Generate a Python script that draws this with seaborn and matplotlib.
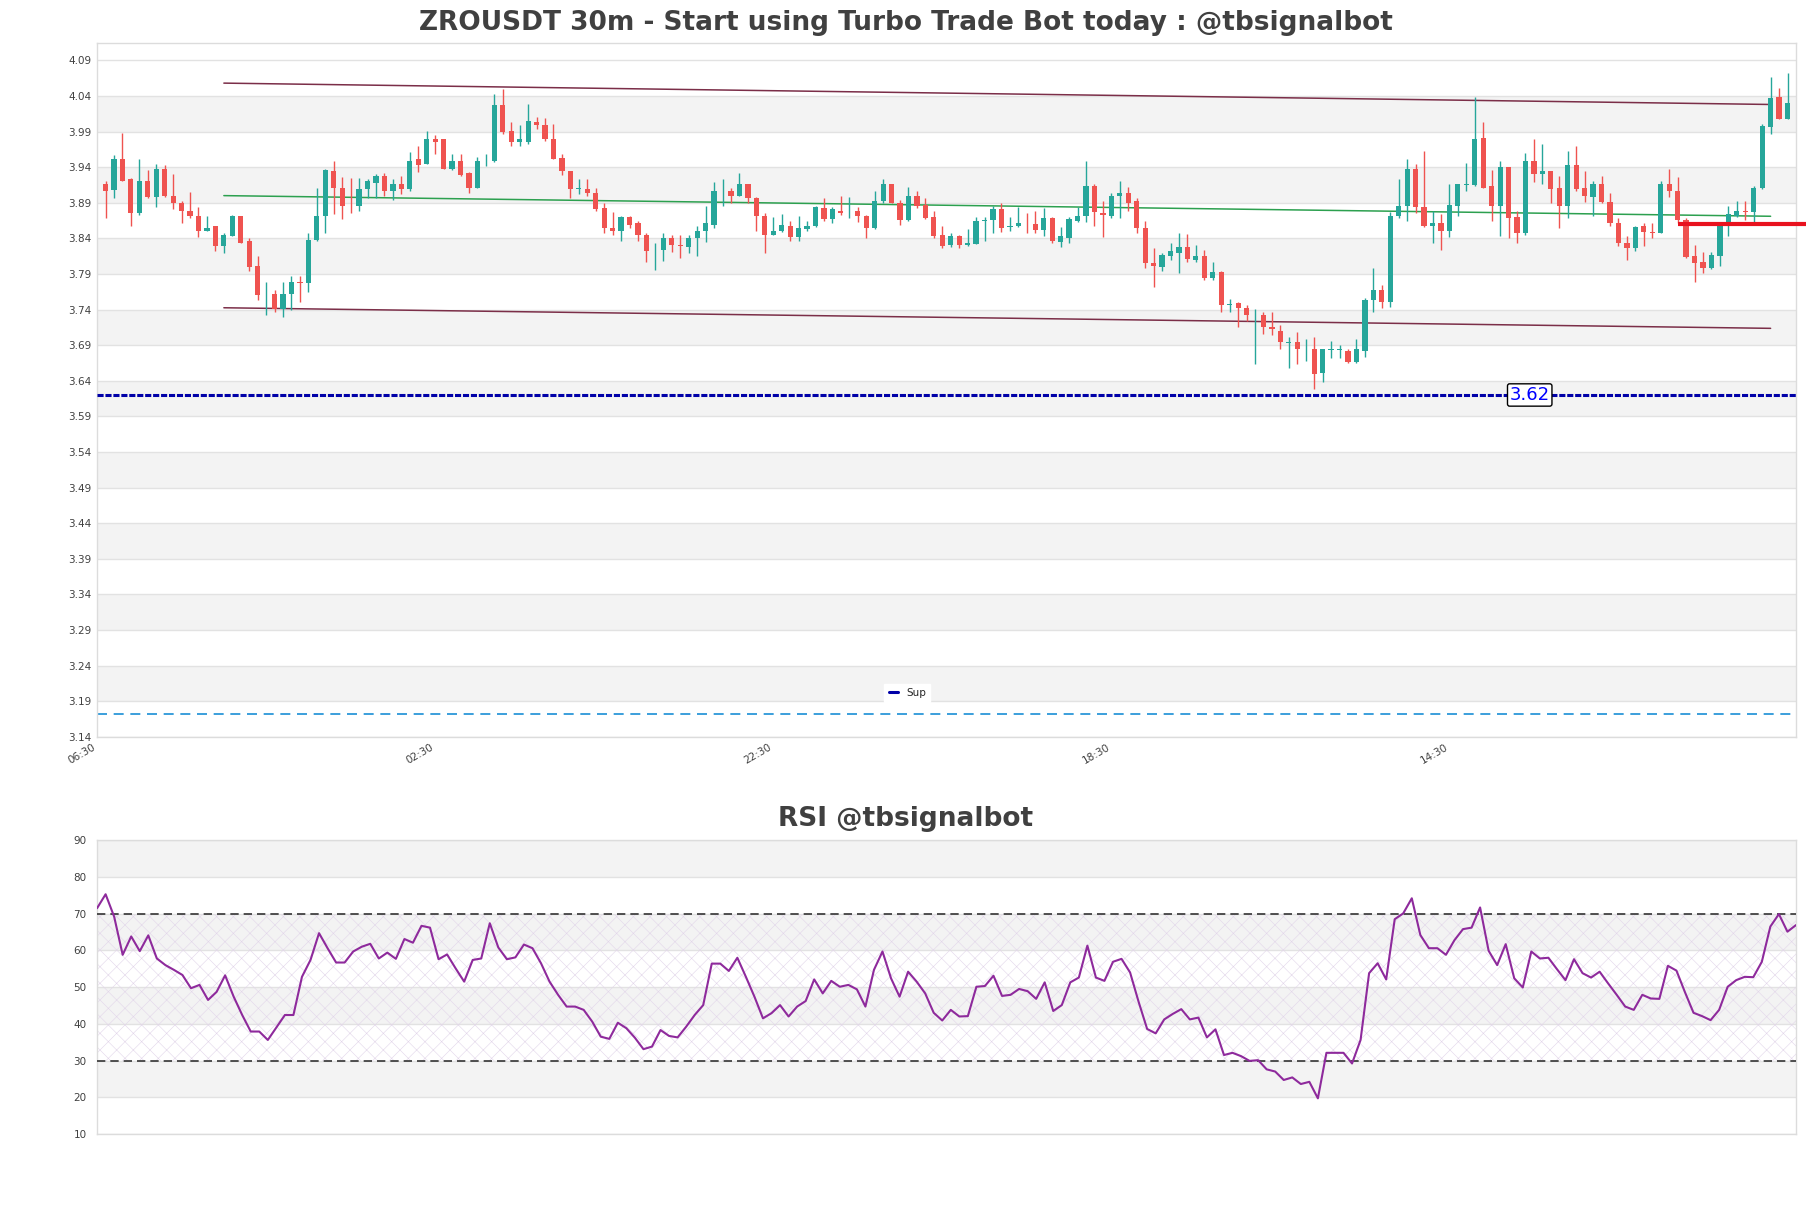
import numpy as np
import pandas as pd
import matplotlib
matplotlib.use("Agg")
import matplotlib.pyplot as plt
from matplotlib.ticker import MultipleLocator
from matplotlib.lines import Line2D
import seaborn as sns

# ---------------- data ----------------
title_main = "ZROUSDT 30m - Start using Turbo Trade Bot today : @tbsignalbot"
title_rsi = "RSI @tbsignalbot"
time_labels = ["06:30", "02:30", "22:30", "18:30", "14:30"]
time_ticks = [0, 40, 80, 120, 160]

opens = [3.916, 3.908, 3.951, 3.923, 3.876, 3.921, 3.898, 3.938, 3.900, 3.890,
         3.878, 3.872, 3.850, 3.857, 3.829, 3.843, 3.871, 3.836, 3.801, 3.760,
         3.762, 3.741, 3.762, 3.779, 3.777, 3.837, 3.871, 3.935, 3.911, 3.886,
         3.885, 3.909, 3.918, 3.927, 3.906, 3.917, 3.909, 3.951, 3.944, 3.979,
         3.979, 3.938, 3.949, 3.932, 3.910, 3.948, 3.948, 4.027, 3.991, 3.976,
         3.976, 4.004, 3.999, 3.979, 3.953, 3.934, 3.909, 3.909, 3.903, 3.883,
         3.854, 3.850, 3.870, 3.862, 3.845, 3.823, 3.824, 3.841, 3.830, 3.828,
         3.840, 3.850, 3.859, 3.906, 3.907, 3.899, 3.917, 3.897, 3.872, 3.845,
         3.850, 3.858, 3.842, 3.853, 3.857, 3.883, 3.867, 3.879, 3.875, 3.878,
         3.872, 3.855, 3.892, 3.917, 3.890, 3.866, 3.900, 3.887, 3.870, 3.844,
         3.830, 3.843, 3.831, 3.832, 3.865, 3.866, 3.881, 3.856, 3.857, 3.862,
         3.860, 3.852, 3.869, 3.835, 3.841, 3.865, 3.871, 3.914, 3.876, 3.871,
         3.899, 3.904, 3.892, 3.855, 3.806, 3.800, 3.815, 3.820, 3.828, 3.809,
         3.815, 3.785, 3.793, 3.747, 3.749, 3.742, 3.732, 3.733, 3.715, 3.710,
         3.693, 3.694, 3.684, 3.685, 3.651, 3.683, 3.683, 3.682, 3.666, 3.682,
         3.754, 3.768, 3.750, 3.871, 3.885, 3.937, 3.884, 3.858, 3.862, 3.850,
         3.886, 3.915, 3.915, 3.981, 3.913, 3.885, 3.940, 3.870, 3.848, 3.948,
         3.931, 3.935, 3.910, 3.885, 3.943, 3.910, 3.898, 3.917, 3.891, 3.862,
         3.834, 3.826, 3.857, 3.849, 3.848, 3.916, 3.907, 3.866, 3.815, 3.807,
         3.799, 3.815, 3.860, 3.872, 3.878, 3.877, 3.910, 3.997, 4.039, 4.008]

highs = [3.921, 3.957, 3.988, 3.925, 3.951, 3.936, 3.945, 3.943, 3.931, 3.893,
         3.905, 3.884, 3.872, 3.858, 3.847, 3.873, 3.871, 3.841, 3.815, 3.778,
         3.767, 3.778, 3.787, 3.787, 3.847, 3.911, 3.937, 3.948, 3.926, 3.925,
         3.925, 3.924, 3.930, 3.932, 3.923, 3.928, 3.961, 3.970, 3.991, 3.985,
         3.979, 3.959, 3.959, 3.933, 3.954, 3.959, 4.043, 4.050, 4.003, 3.999,
         4.029, 4.010, 4.009, 4.001, 3.959, 3.934, 3.924, 3.924, 3.910, 3.890,
         3.877, 3.872, 3.872, 3.864, 3.847, 3.834, 3.848, 3.845, 3.845, 3.844,
         3.858, 3.886, 3.919, 3.924, 3.910, 3.932, 3.917, 3.898, 3.875, 3.870,
         3.874, 3.864, 3.872, 3.865, 3.885, 3.896, 3.884, 3.900, 3.898, 3.884,
         3.873, 3.907, 3.924, 3.917, 3.894, 3.912, 3.906, 3.897, 3.879, 3.858,
         3.848, 3.844, 3.853, 3.870, 3.870, 3.885, 3.890, 3.870, 3.884, 3.876,
         3.879, 3.882, 3.870, 3.856, 3.870, 3.884, 3.948, 3.916, 3.893, 3.903,
         3.920, 3.912, 3.897, 3.865, 3.827, 3.820, 3.834, 3.848, 3.846, 3.830,
         3.823, 3.807, 3.794, 3.755, 3.751, 3.747, 3.741, 3.736, 3.736, 3.718,
         3.702, 3.708, 3.699, 3.701, 3.685, 3.696, 3.690, 3.684, 3.699, 3.756,
         3.799, 3.774, 3.877, 3.923, 3.951, 3.945, 3.962, 3.878, 3.874, 3.917,
         3.916, 3.946, 4.039, 4.004, 3.936, 3.949, 3.940, 3.879, 3.960, 3.980,
         3.973, 3.935, 3.928, 3.962, 3.969, 3.934, 3.920, 3.927, 3.903, 3.868,
         3.843, 3.858, 3.861, 3.862, 3.921, 3.938, 3.926, 3.868, 3.830, 3.821,
         3.821, 3.863, 3.886, 3.893, 3.893, 3.914, 4.001, 4.067, 4.051, 4.072]

lows = [3.869, 3.897, 3.920, 3.858, 3.873, 3.896, 3.884, 3.898, 3.881, 3.861,
        3.869, 3.842, 3.850, 3.822, 3.820, 3.843, 3.833, 3.794, 3.754, 3.732,
        3.736, 3.730, 3.740, 3.751, 3.764, 3.836, 3.848, 3.874, 3.867, 3.876,
        3.878, 3.896, 3.896, 3.900, 3.894, 3.902, 3.907, 3.933, 3.944, 3.959,
        3.937, 3.936, 3.928, 3.903, 3.910, 3.941, 3.947, 3.987, 3.969, 3.969,
        3.973, 3.994, 3.977, 3.951, 3.929, 3.896, 3.902, 3.900, 3.878, 3.847,
        3.845, 3.836, 3.855, 3.836, 3.807, 3.795, 3.808, 3.821, 3.813, 3.820,
        3.815, 3.835, 3.855, 3.885, 3.890, 3.899, 3.890, 3.850, 3.820, 3.845,
        3.849, 3.836, 3.836, 3.850, 3.856, 3.865, 3.862, 3.873, 3.869, 3.863,
        3.841, 3.853, 3.890, 3.889, 3.859, 3.865, 3.882, 3.867, 3.841, 3.827,
        3.828, 3.827, 3.829, 3.832, 3.836, 3.848, 3.849, 3.851, 3.856, 3.847,
        3.847, 3.843, 3.833, 3.828, 3.834, 3.863, 3.863, 3.857, 3.842, 3.869,
        3.869, 3.878, 3.848, 3.799, 3.771, 3.794, 3.810, 3.791, 3.807, 3.807,
        3.781, 3.782, 3.737, 3.737, 3.715, 3.724, 3.664, 3.705, 3.704, 3.685,
        3.658, 3.664, 3.668, 3.628, 3.638, 3.672, 3.672, 3.665, 3.665, 3.674,
        3.737, 3.742, 3.743, 3.868, 3.864, 3.875, 3.856, 3.834, 3.824, 3.842,
        3.872, 3.907, 3.913, 3.910, 3.865, 3.843, 3.840, 3.833, 3.844, 3.919,
        3.917, 3.889, 3.855, 3.868, 3.907, 3.891, 3.872, 3.889, 3.857, 3.829,
        3.810, 3.822, 3.829, 3.841, 3.848, 3.898, 3.861, 3.812, 3.778, 3.792,
        3.797, 3.801, 3.843, 3.870, 3.866, 3.861, 3.909, 3.986, 4.008, 4.007]

closes = [3.906, 3.951, 3.921, 3.876, 3.921, 3.898, 3.938, 3.899, 3.889, 3.878,
          3.871, 3.850, 3.855, 3.829, 3.844, 3.871, 3.834, 3.800, 3.760, 3.761,
          3.741, 3.762, 3.779, 3.777, 3.837, 3.871, 3.936, 3.910, 3.885, 3.885,
          3.909, 3.920, 3.928, 3.906, 3.917, 3.909, 3.949, 3.943, 3.979, 3.976,
          3.938, 3.948, 3.929, 3.910, 3.948, 3.949, 4.027, 3.990, 3.975, 3.979,
          4.005, 3.999, 3.979, 3.951, 3.934, 3.909, 3.910, 3.903, 3.881, 3.855,
          3.850, 3.870, 3.859, 3.845, 3.822, 3.824, 3.841, 3.830, 3.829, 3.840,
          3.851, 3.861, 3.907, 3.907, 3.899, 3.917, 3.897, 3.871, 3.845, 3.851,
          3.859, 3.842, 3.854, 3.858, 3.884, 3.867, 3.881, 3.875, 3.876, 3.871,
          3.855, 3.893, 3.917, 3.890, 3.866, 3.900, 3.885, 3.869, 3.843, 3.829,
          3.843, 3.830, 3.833, 3.865, 3.866, 3.881, 3.855, 3.857, 3.862, 3.861,
          3.852, 3.869, 3.836, 3.843, 3.867, 3.871, 3.914, 3.877, 3.873, 3.900,
          3.904, 3.889, 3.855, 3.806, 3.801, 3.816, 3.822, 3.828, 3.811, 3.815,
          3.785, 3.793, 3.747, 3.748, 3.742, 3.732, 3.733, 3.715, 3.712, 3.694,
          3.694, 3.685, 3.685, 3.650, 3.684, 3.684, 3.684, 3.666, 3.684, 3.754,
          3.768, 3.750, 3.871, 3.885, 3.937, 3.884, 3.858, 3.861, 3.850, 3.887,
          3.916, 3.917, 3.979, 3.911, 3.885, 3.940, 3.869, 3.848, 3.948, 3.931,
          3.935, 3.909, 3.885, 3.943, 3.909, 3.899, 3.916, 3.891, 3.862, 3.833,
          3.827, 3.856, 3.849, 3.848, 3.916, 3.907, 3.866, 3.814, 3.806, 3.799,
          3.816, 3.862, 3.874, 3.879, 3.877, 3.910, 3.998, 4.037, 4.008, 4.030]

rsi = [71.5, 75.3, 69.2, 58.8, 63.8, 59.8, 64.1, 57.8, 56.0, 54.7,
       53.3, 49.7, 50.6, 46.5, 48.7, 53.2, 47.4, 42.4, 37.9, 37.9,
       35.6, 39.0, 42.4, 42.4, 52.8, 57.4, 64.7, 60.6, 56.7, 56.7,
       59.7, 61.0, 61.8, 57.8, 59.4, 57.7, 63.1, 62.1, 66.7, 66.2,
       57.6, 58.9, 55.1, 51.5, 57.4, 57.8, 67.4, 60.8, 57.6, 58.1,
       61.6, 60.6, 56.5, 51.5, 47.9, 44.7, 44.7, 43.8, 40.6, 36.5,
       35.9, 40.3, 38.8, 36.2, 33.1, 33.8, 38.3, 36.7, 36.3, 39.2,
       42.4, 45.1, 56.4, 56.4, 54.4, 58.0, 52.8, 47.4, 41.5, 42.9,
       45.1, 42.0, 44.7, 46.2, 52.1, 48.3, 51.7, 50.1, 50.6, 49.4,
       44.7, 54.7, 59.7, 52.4, 47.4, 54.2, 51.5, 48.3, 43.0, 40.9,
       43.8, 42.0, 42.1, 50.1, 50.3, 53.1, 47.6, 47.9, 49.5, 48.9,
       46.8, 51.3, 43.5, 45.1, 51.3, 52.6, 61.3, 52.6, 51.7, 56.9,
       57.7, 54.0, 46.0, 38.6, 37.4, 41.2, 42.7, 44.0, 41.2, 41.7,
       36.3, 38.5, 31.5, 32.1, 31.2, 29.9, 30.1, 27.6, 27.0, 24.7,
       25.4, 23.6, 24.2, 19.7, 32.1, 32.1, 32.1, 29.2, 35.6, 53.8,
       56.5, 52.1, 68.5, 70.1, 74.2, 64.2, 60.6, 60.6, 58.8, 62.8,
       65.8, 66.2, 71.7, 59.9, 56.0, 61.7, 52.4, 49.9, 59.7, 57.8,
       58.0, 54.9, 51.9, 57.6, 53.8, 52.6, 54.2, 51.0, 47.9, 44.7,
       43.8, 47.9, 46.9, 46.8, 55.8, 54.5, 48.6, 43.0, 42.1, 41.0,
       43.8, 50.1, 51.9, 52.8, 52.7, 56.9, 66.5, 69.9, 65.1, 66.9]

channel_x = [15, 198]
channel_upper = [4.058, 4.028]
channel_mid = [3.900, 3.871]
channel_lower = [3.7425, 3.7136]
support_level = 3.62
low_level = 3.1715
red_level = 3.8597
red_x = [187, 202.2]
support_label_x = 169.5

df = pd.DataFrame({"open": opens, "high": highs, "low": lows, "close": closes})
df["x"] = np.arange(1, len(df) + 1)
rsi_df = pd.DataFrame({"x": np.arange(1, len(rsi) + 1), "rsi": rsi})

# ---------------- style ----------------
sns.set_style("white")
plt.rcParams["font.family"] = ["DejaVu Sans"]
plt.rcParams["hatch.linewidth"] = 0.4

GREEN = "#26a69a"
RED = "#ef5350"
BAND = "#f3f3f3"
GRID = "#e2e2e2"
SPINE = "#dcdcdc"
TXT = "#404040"
SUP = "#0000a8"

fig = plt.figure(figsize=(18.11, 12.08), dpi=100)
ax = fig.add_axes([0.0536, 0.3901, 0.9381, 0.5741])
ax2 = fig.add_axes([0.0536, 0.0613, 0.9381, 0.2431])

# ---------------- main candle panel ----------------
for lo in np.arange(3.19, 4.0, 0.1):
    ax.axhspan(lo, lo + 0.05, color=BAND, zorder=0, lw=0)

up = df["close"] >= df["open"]
cols = np.where(up, GREEN, RED)
ax.vlines(df["x"], df["low"], df["high"], colors=cols, lw=1.0, zorder=3)
body = np.maximum((df["close"] - df["open"]).abs(), 0.0009)
ax.bar(df["x"], body, bottom=np.minimum(df["open"], df["close"]), width=0.62,
       color=cols, lw=0, zorder=4)

ax.plot(channel_x, channel_upper, color="#7b2e48", lw=1.1, zorder=2)
ax.plot(channel_x, channel_lower, color="#7b2e48", lw=1.1, zorder=2)
ax.plot(channel_x, channel_mid, color="#2ca04f", lw=1.1, zorder=2)

ax.axhline(support_level, color=SUP, lw=2.2, ls=(0, (2, 0.6)), zorder=5)
ax.text(support_label_x, support_level, "3.62", color="#0000ff", fontsize=13,
        ha="center", va="center", zorder=7,
        bbox=dict(boxstyle="round,pad=0.12", fc="white", ec="black", lw=1))
ax.axhline(low_level, color="#1a8fd6", lw=1.2, ls=(0, (6, 4)), zorder=2)
ax.plot(red_x, [red_level, red_level], color="#e8121e", lw=3, clip_on=False,
        solid_capstyle="butt", zorder=6)

ax.set_xlim(0, 201)
ax.set_ylim(3.14, 4.114)
ax.set_yticks(np.round(np.arange(3.14, 4.091, 0.05), 2))
ax.yaxis.set_major_formatter(matplotlib.ticker.FormatStrFormatter("%.2f"))
ax.set_xticks(time_ticks)
ax.set_xticklabels(time_labels, rotation=30, ha="right")
ax.tick_params(axis="both", labelsize=7.5, colors=TXT, length=0, pad=4)
ax.yaxis.grid(True, color=GRID, lw=1)
ax.xaxis.grid(False)
ax.set_axisbelow(True)
for s in ax.spines.values():
    s.set_color(SPINE)
    s.set_linewidth(1)

sup_handle = Line2D([], [], color=SUP, lw=2.2)
ax.legend([sup_handle], ["Sup"], loc="center", bbox_to_anchor=(0.477, 0.063),
          fontsize=7.5, frameon=True, facecolor="white", edgecolor="white",
          framealpha=1, handlelength=0.9, borderpad=0.4, fancybox=False)

# ---------------- RSI panel ----------------
for lo in [20, 40, 60, 80]:
    ax2.axhspan(lo, lo + 10, color=BAND, zorder=0, lw=0)
ax2.fill_between([1, 200], 30, 70, facecolor="none", edgecolor="#e2d6ea",
                 hatch="xx", lw=0, zorder=1)
ax2.axhline(70, color="#333333", ls=(0, (5, 3)), lw=1.2, zorder=3)
ax2.axhline(30, color="#333333", ls=(0, (5, 3)), lw=1.2, zorder=3)
sns.lineplot(data=rsi_df, x="x", y="rsi", ax=ax2, color="#8e2a9c", lw=1.5, zorder=4)

ax2.set_xlim(1, 200)
ax2.set_ylim(10, 90)
ax2.set_yticks(range(10, 91, 10))
ax2.yaxis.set_minor_locator(MultipleLocator(5))
ax2.set_xticks([])
ax2.set_xlabel("")
ax2.set_ylabel("")
ax2.tick_params(axis="y", which="major", labelsize=7.5, colors=TXT, length=4, width=0.8)
ax2.tick_params(axis="y", which="minor", length=2, width=0.8, colors="#888888")
ax2.yaxis.grid(True, color=GRID, lw=1)
ax2.set_axisbelow(True)
for s in ax2.spines.values():
    s.set_color(SPINE)
    s.set_linewidth(1)

# ---------------- titles ----------------
fig.text(0.5, 0.981, title_main, ha="center", va="center", fontsize=19,
         fontweight="bold", color=TXT)
fig.text(0.5, 0.322, title_rsi, ha="center", va="center", fontsize=19,
         fontweight="bold", color=TXT)

fig.savefig("out.png", dpi=100)
